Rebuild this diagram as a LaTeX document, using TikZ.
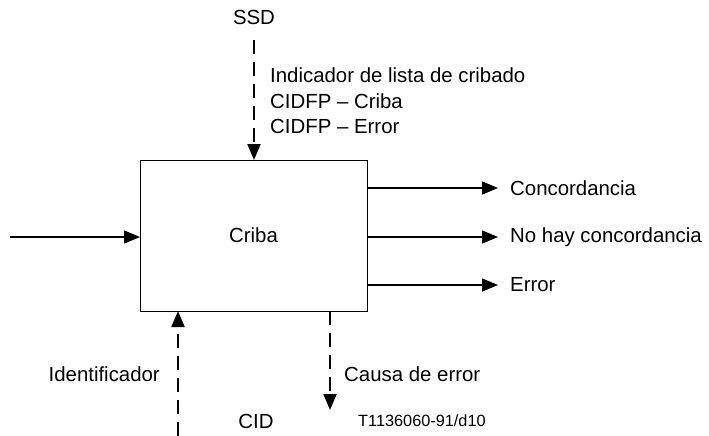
\documentclass[tikz,border=0pt]{standalone}
\usepackage{fontspec}
\setmainfont{Liberation Sans}
\usetikzlibrary{arrows.meta}
\begin{document}
\begin{tikzpicture}[x=1pt,y=-1pt,
  lbl/.style={font=\fontsize{20.4}{25.5}\selectfont, inner sep=0pt},
  small/.style={font=\fontsize{16.3}{20}\selectfont, inner sep=0pt},
  arr/.style={line width=1.5pt, -{Triangle[length=16pt,width=13pt]}},
  darr/.style={line width=2pt, dash pattern=on 14pt off 8pt, -{Triangle[length=16pt,width=13pt]}},
  blk/.style={draw, line width=1pt, minimum width=227pt, minimum height=151pt, inner sep=0pt}]
\useasboundingbox (0,0) rectangle (709,436);
\node[blk, lbl] (box) at (253.5,235.5) {Criba};
\node[lbl] (ssd) at (254,17) {SSD};
\coordinate (ssdtop) at (254,40);
\coordinate (topin) at (254,160);
\draw[darr] (ssdtop) -- (topin);
\node[lbl, anchor=west, align=left] (ind) at (270,101) {Indicador de lista de cribado\\CIDFP -- Criba\\CIDFP -- Error};
\coordinate (leftstart) at (10,237);
\coordinate (leftin) at (140,237);
\draw[arr] (leftstart) -- (leftin);
\coordinate (o1s) at (367,188);
\coordinate (o1e) at (498,188);
\coordinate (o2s) at (367,237);
\coordinate (o2e) at (498,237);
\coordinate (o3s) at (367,285);
\coordinate (o3e) at (498,285);
\draw[arr] (o1s) -- (o1e);
\draw[arr] (o2s) -- (o2e);
\draw[arr] (o3s) -- (o3e);
\node[lbl, anchor=west] (conc) at (510,188) {Concordancia};
\node[lbl, anchor=west] (noconc) at (510,237) {No hay concordancia};
\node[lbl, anchor=west] (err) at (510,285) {Error};
\coordinate (idbot) at (178,436);
\coordinate (idin) at (178,311);
\draw[darr] (idbot) -- (idin);
\node[lbl, anchor=east] (ident) at (160,374) {Identificador};
\coordinate (causetop) at (330,311);
\coordinate (causeend) at (330,410);
\draw[darr] (causetop) -- (causeend);
\node[lbl, anchor=west] (causa) at (344,374) {Causa de error};
\node[lbl] (cid) at (256,421) {CID};
\node[small, anchor=west] (ref) at (358,421) {T1136060-91/d10};
\end{tikzpicture}
\end{document}
